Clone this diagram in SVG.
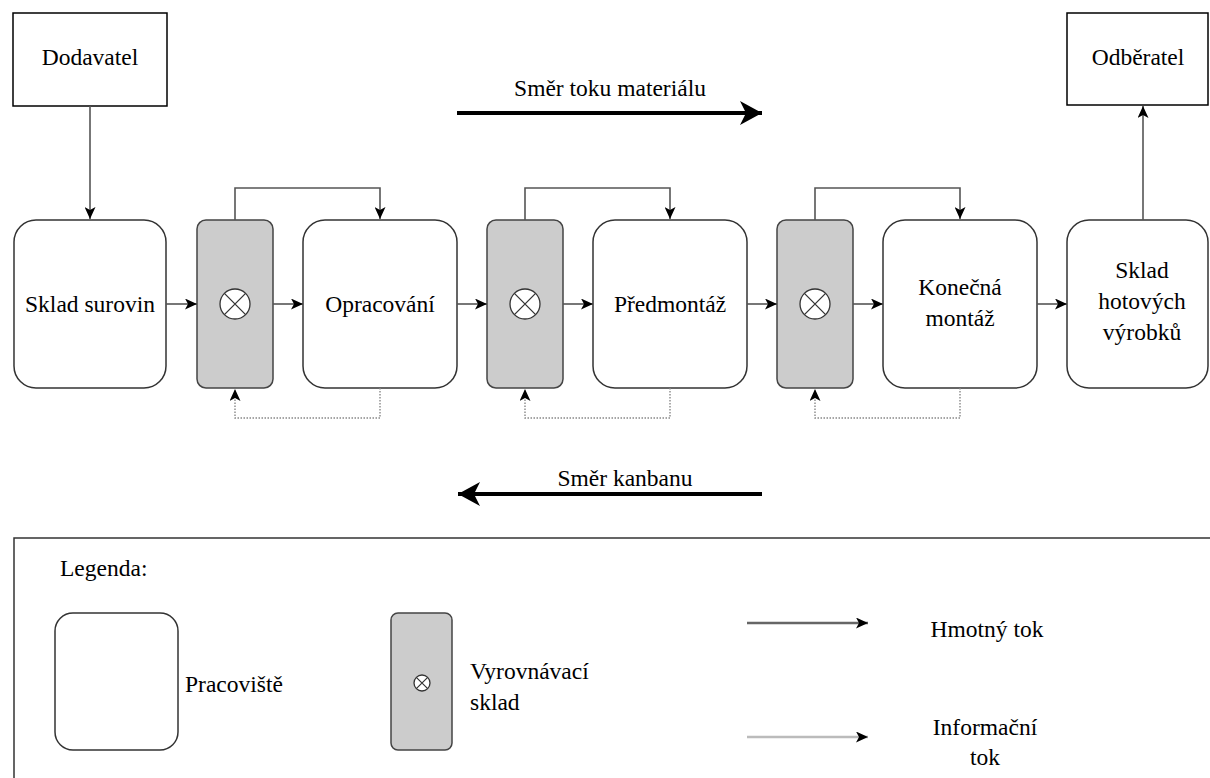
<svg xmlns="http://www.w3.org/2000/svg" width="1210" height="778" viewBox="0 0 1210 778" font-family="Liberation Serif, DejaVu Serif, serif">
<style>
text{font-family:'Liberation Serif','DejaVu Serif',serif;font-size:23.5px;fill:#000;text-anchor:middle}
.box{fill:#fff;stroke:#000;stroke-width:1.5}
.ws{fill:#fff;stroke:#333;stroke-width:1.5}
.buf{fill:#ccc;stroke:#444;stroke-width:1.5}
.cir{fill:#fff;stroke:#333;stroke-width:1.3}
.flow{fill:none;stroke:#555;stroke-width:1.6;marker-end:url(#ah)}
.info{fill:none;stroke:#888;stroke-width:1.4;stroke-dasharray:1.5 1.5;marker-end:url(#ah)}
.big{fill:none;stroke:#000;stroke-width:4;marker-end:url(#bh)}
</style>
<defs>
<marker id="ah" markerUnits="userSpaceOnUse" markerWidth="13" markerHeight="11" refX="12" refY="5.5" orient="auto">
<path d="M0,0 L12,5.5 L0,11 L3,5.5 Z" fill="#000"/>
</marker>
<marker id="bh" markerUnits="userSpaceOnUse" markerWidth="24" markerHeight="26" refX="22" refY="13" orient="auto">
<path d="M0,1 L22,13 L0,25 L6,13 Z" fill="#000"/>
</marker>
<g id="xc"><circle class="cir" r="15"/><path d="M-10.6,-10.6 L10.6,10.6 M10.6,-10.6 L-10.6,10.6" stroke="#333" stroke-width="1.3"/></g>
<g id="xs"><circle class="cir" r="8"/><path d="M-5.7,-5.7 L5.7,5.7 M5.7,-5.7 L-5.7,5.7" stroke="#333" stroke-width="1.2"/></g>
</defs>

<g id="dodavatel"><rect class="box" x="13" y="13" width="154" height="93"/><text x="90" y="65">Dodavatel</text></g>
<g id="odberatel"><rect class="box" x="1067" y="13" width="141" height="92"/><text x="1138" y="65">Odběratel</text></g>

<g id="smer-materialu"><text x="610" y="96">Směr toku materiálu</text><path class="big" d="M457,113 H762"/></g>
<g id="smer-kanbanu"><text x="625" y="486">Směr kanbanu</text><path class="big" d="M762,494 H458"/></g>

<g id="sklad-surovin"><rect class="ws" x="14" y="220" width="152" height="168" rx="22"/><text x="90" y="312">Sklad surovin</text></g>
<g id="buffer1"><rect class="buf" x="197" y="220" width="76" height="168" rx="9"/><use href="#xc" x="235" y="304"/></g>
<g id="opracovani"><rect class="ws" x="303" y="220" width="154" height="168" rx="22"/><text x="380" y="312">Opracování</text></g>
<g id="buffer2"><rect class="buf" x="487" y="220" width="76" height="168" rx="9"/><use href="#xc" x="525" y="304"/></g>
<g id="predmontaz"><rect class="ws" x="593" y="220" width="154" height="168" rx="22"/><text x="670" y="312">Předmontáž</text></g>
<g id="buffer3"><rect class="buf" x="777" y="220" width="76" height="168" rx="9"/><use href="#xc" x="815" y="304"/></g>
<g id="konecna-montaz"><rect class="ws" x="883" y="220" width="154" height="168" rx="22"/><text x="960" y="295">Konečná</text><text x="960" y="326">montáž</text></g>
<g id="sklad-hotovych"><rect class="ws" x="1067" y="220" width="141" height="168" rx="22"/><text x="1142" y="278">Sklad</text><text x="1142" y="309">hotových</text><text x="1142" y="340">výrobků</text></g>

<g id="connectors">
<path class="flow" d="M90,106 V219"/>
<path class="flow" d="M1143,220 V106"/>
<path class="flow" d="M166,304 H197"/>
<path class="flow" d="M273,304 H303"/>
<path class="flow" d="M457,304 H487"/>
<path class="flow" d="M563,304 H593"/>
<path class="flow" d="M747,304 H777"/>
<path class="flow" d="M853,304 H883"/>
<path class="flow" d="M1037,304 H1067"/>
<path class="flow" d="M235,220 V188 H380 V219"/>
<path class="flow" d="M525,220 V188 H670 V219"/>
<path class="flow" d="M815,220 V188 H960 V219"/>
<path class="info" d="M380,388 V418 H235 V389"/>
<path class="info" d="M670,388 V418 H525 V389"/>
<path class="info" d="M960,388 V418 H815 V389"/>
</g>

<g id="legenda">
<rect x="14" y="538" width="1210" height="260" fill="none" stroke="#333" stroke-width="1.5"/>
<text x="60" y="576" style="text-anchor:start">Legenda:</text>
<rect class="ws" x="55" y="613" width="123" height="137" rx="18"/>
<text x="185" y="692" style="text-anchor:start">Pracoviště</text>
<rect class="buf" x="391" y="613" width="61" height="137" rx="7"/>
<use href="#xs" x="422" y="683"/>
<text x="470" y="679" style="text-anchor:start">Vyrovnávací</text>
<text x="470" y="710" style="text-anchor:start">sklad</text>
<path d="M747,623 H868" fill="none" stroke="#666" stroke-width="2.5" marker-end="url(#ah)"/>
<text x="987" y="637">Hmotný tok</text>
<path d="M747,737 H868" fill="none" stroke="#bbb" stroke-width="2.5" marker-end="url(#ah)"/>
<text x="985" y="735">Informační</text>
<text x="985" y="765">tok</text>
</g>
</svg>
